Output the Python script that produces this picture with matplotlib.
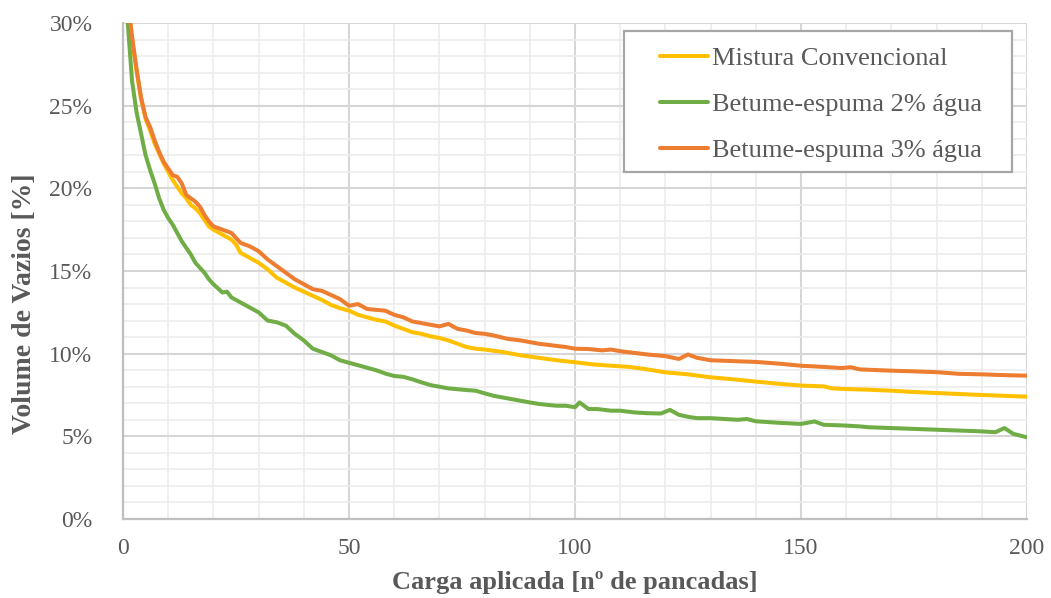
import matplotlib
matplotlib.use("Agg")
import matplotlib.pyplot as plt
from matplotlib.patches import Rectangle
from matplotlib.ticker import MultipleLocator, FuncFormatter

# Número de pancadas e volume de vazios (%) para cada mistura
x_conv = [1, 2, 3, 4, 5, 6, 7, 8, 9, 10, 11, 12, 13, 14, 15, 16, 17, 18, 19, 20,
          22, 24, 25, 26, 28, 30, 32, 34, 36, 38, 40, 42, 44, 46, 48, 50, 52, 54,
          56, 58, 60, 62, 64, 66, 68, 70, 72, 74, 76, 78, 80, 84, 88, 92, 96, 100,
          104, 108, 112, 116, 120, 125, 130, 135, 140, 145, 150, 155, 157, 160,
          165, 170, 175, 180, 185, 190, 195, 200]
v_conv = [31.3, 29.0, 27.1, 25.4, 24.2, 23.5, 22.7, 22.1, 21.5, 21.0, 20.5, 20.1,
          19.7, 19.4, 19.0, 18.8, 18.5, 18.1, 17.7, 17.5, 17.2, 16.9, 16.6, 16.1,
          15.8, 15.5, 15.1, 14.6, 14.3, 14.0, 13.75, 13.5, 13.25, 12.95, 12.75,
          12.6, 12.35, 12.2, 12.05, 11.95, 11.7, 11.5, 11.3, 11.2, 11.05, 10.95,
          10.8, 10.6, 10.4, 10.3, 10.25, 10.1, 9.9, 9.75, 9.6, 9.48, 9.35, 9.27,
          9.2, 9.05, 8.87, 8.75, 8.57, 8.45, 8.31, 8.18, 8.07, 8.02, 7.9, 7.86,
          7.82, 7.76, 7.68, 7.62, 7.56, 7.5, 7.45, 7.4]

x_esp2 = [1, 2, 3, 4, 5, 6, 7, 8, 9, 10, 11, 12, 13, 14, 15, 16, 17, 18, 19, 20,
          22, 23, 24, 26, 28, 30, 32, 34, 36, 38, 40, 42, 44, 46, 48, 50, 52, 54,
          56, 58, 60, 62, 64, 66, 68, 70, 72, 74, 76, 78, 80, 82, 84, 86, 88, 90,
          92, 94, 96, 98, 100, 101, 103, 105, 108, 110, 113, 116, 119, 121, 123,
          125, 127, 130, 133, 136, 138, 140, 145, 150, 153, 155, 160, 163, 165,
          170, 175, 180, 185, 190, 193, 195, 197, 200]
v_esp2 = [30.2, 26.5, 24.6, 23.3, 22.0, 21.1, 20.3, 19.4, 18.7, 18.2, 17.8, 17.3,
          16.8, 16.4, 16.0, 15.5, 15.2, 14.9, 14.5, 14.2, 13.7, 13.75, 13.4, 13.1,
          12.8, 12.5, 12.0, 11.9, 11.7, 11.2, 10.8, 10.3, 10.1, 9.9, 9.6, 9.45,
          9.3, 9.15, 9.0, 8.8, 8.65, 8.6, 8.45, 8.27, 8.1, 8.0, 7.9, 7.85, 7.8,
          7.76, 7.6, 7.45, 7.35, 7.25, 7.15, 7.05, 6.96, 6.9, 6.85, 6.85, 6.76,
          7.05, 6.65, 6.65, 6.55, 6.55, 6.45, 6.4, 6.38, 6.6, 6.3, 6.18, 6.1, 6.1,
          6.05, 6.0, 6.05, 5.91, 5.82, 5.75, 5.9, 5.7, 5.65, 5.6, 5.55, 5.5, 5.45,
          5.4, 5.35, 5.3, 5.25, 5.5, 5.15, 4.94]

x_esp3 = [1, 2, 3, 4, 5, 6, 7, 8, 9, 10, 11, 12, 13, 14, 15, 16, 17, 18, 19, 20,
          22, 24, 25, 26, 28, 30, 32, 34, 36, 38, 40, 42, 44, 46, 48, 50, 52, 54,
          56, 58, 60, 62, 64, 66, 68, 70, 72, 74, 76, 78, 80, 82, 85, 88, 90, 92,
          95, 98, 100, 103, 106, 108, 110, 113, 116, 120, 123, 125, 127, 130, 135,
          140, 145, 150, 155, 159, 161, 163, 170, 175, 180, 185, 190, 195, 200]
v_esp3 = [31.5, 29.2, 27.2, 25.5, 24.3, 23.7, 22.9, 22.2, 21.6, 21.2, 20.8, 20.7,
          20.3, 19.6, 19.4, 19.2, 18.9, 18.4, 18.0, 17.7, 17.5, 17.3, 17.0, 16.7,
          16.5, 16.2, 15.7, 15.3, 14.9, 14.5, 14.2, 13.9, 13.8, 13.55, 13.3, 12.9,
          13.0, 12.7, 12.65, 12.6, 12.35, 12.2, 11.95, 11.85, 11.75, 11.65, 11.8,
          11.5, 11.4, 11.25, 11.2, 11.1, 10.9, 10.8, 10.7, 10.6, 10.5, 10.4, 10.3,
          10.28, 10.2, 10.25, 10.15, 10.05, 9.95, 9.85, 9.68, 9.95, 9.75, 9.6, 9.55,
          9.5, 9.4, 9.27, 9.2, 9.13, 9.18, 9.05, 8.97, 8.93, 8.88, 8.78, 8.75, 8.7,
          8.67]

series = [
    ("Mistura Convencional", x_conv, v_conv, "#FFC000"),
    ("Betume-espuma 2% água", x_esp2, v_esp2, "#70AD47"),
    ("Betume-espuma 3% água", x_esp3, v_esp3, "#ED7D31"),
]

plt.rcParams["font.family"] = ["Liberation Serif", "DejaVu Serif"]
text_color = "#595959"

W, H = 1051, 598
fig = plt.figure(figsize=(W / 100, H / 100), dpi=100)
ax = fig.add_axes([123 / W, 1 - 519 / H, 904 / W, 496 / H])

for label, xs, vs, color in series:
    ax.plot(xs, vs, color=color, lw=2.9, label=label,
            solid_joinstyle="round", solid_capstyle="round", zorder=3)

ax.set_xlim(0, 200)
ax.set_ylim(0, 30)

ax.xaxis.set_major_locator(MultipleLocator(50))
ax.xaxis.set_minor_locator(MultipleLocator(10))
ax.yaxis.set_major_locator(MultipleLocator(5))
ax.yaxis.set_minor_locator(MultipleLocator(1))
ax.yaxis.set_major_formatter(FuncFormatter(lambda v, p: f"{v:.0f}%"))

ax.grid(which="minor", color="#ececec", lw=1.2, zorder=0)
ax.grid(which="major", color="#d6d6d6", lw=1.5, zorder=1)
ax.set_axisbelow(True)

for side in ("top", "right"):
    ax.spines[side].set_visible(False)
for side in ("left", "bottom"):
    ax.spines[side].set_color("#bfbfbf")
    ax.spines[side].set_linewidth(1.6)

ax.tick_params(which="both", length=0, labelsize=17, labelcolor=text_color)
ax.tick_params(axis="x", pad=14)
ax.tick_params(axis="y", pad=22)

ax.set_xlabel("Carga aplicada [nº de pancadas]", fontsize=19, fontweight="bold",
              color=text_color, va="center")
ax.set_ylabel("Volume de Vazios [%]", fontsize=20, fontweight="bold",
              color=text_color, va="center")
ax.xaxis.set_label_coords(0.5, (519 - 582) / 496)
ax.yaxis.set_label_coords((25 - 123) / 904, (519 - 304) / 496)

# Legend box drawn separately so its padding can be uneven
frame = Rectangle((624 / W, 1 - 172 / H), (1012 - 624) / W, (172 - 31) / H,
                  transform=fig.transFigure, facecolor="white",
                  edgecolor="#a6a6a6", lw=1.6, zorder=4)
ax.add_patch(frame)
frame.set_clip_on(False)

leg = ax.legend(loc="upper left", bbox_to_anchor=(660 / W, 1 - 47 / H),
                bbox_transform=fig.transFigure, fontsize=19,
                handlelength=1.82, handletextpad=0.15, labelspacing=0.85,
                borderpad=0, borderaxespad=0, frameon=False,
                labelcolor=text_color)
leg.set_zorder(5)

fig.savefig("out.png", dpi=100, facecolor="white")
